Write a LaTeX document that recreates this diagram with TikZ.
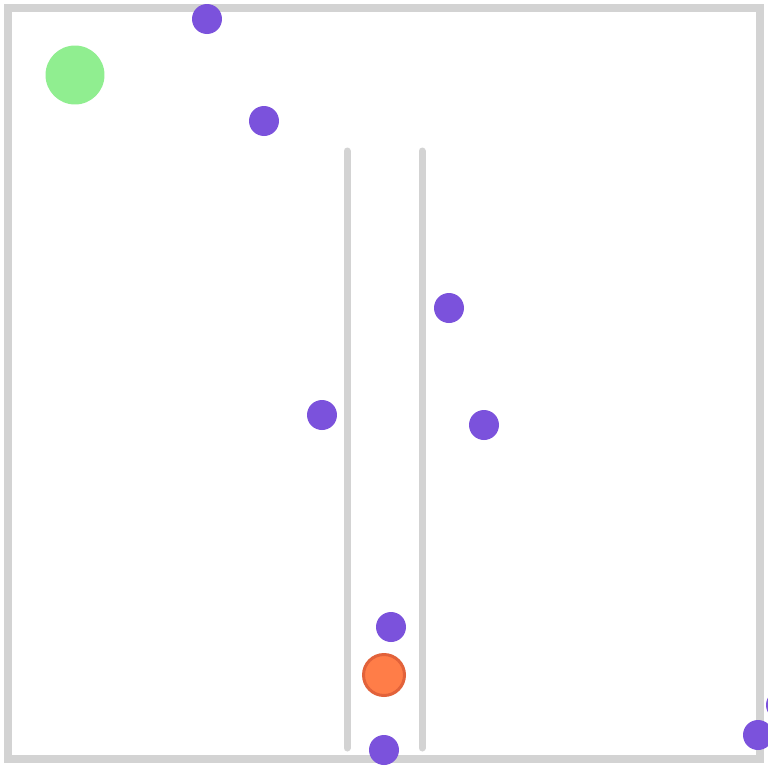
\documentclass[tikz,border=0pt]{standalone}
\usepackage{xcolor}
\usepackage{tikz}
\tikzset{>=latex}
\usetikzlibrary{
    positioning, % posicionamento relativo de nós
    calc % cálculos de coordenadas
}
\definecolor{wallgray}{RGB}{211,211,211}
\definecolor{goalgreen}{RGB}{144,238,144}
\definecolor{dotpurple}{RGB}{123,82,220}
\definecolor{agentorange}{RGB}{255,125,72}
\definecolor{agentedge}{RGB}{226,98,58}
\tikzset{
    arena/.style={draw=wallgray, line width=0.15cm},
    wall/.style={draw=wallgray, line width=0.14cm, line cap=round},
    goal/.style={circle, fill=goalgreen, minimum size=1.18cm, inner sep=0pt},
    obstacle/.style={circle, fill=dotpurple, minimum size=0.6cm, inner sep=0pt},
    agent/.style={circle, fill=agentorange, draw=agentedge, line width=0.06cm,
                  minimum size=0.82cm, inner sep=0pt}
}
\begin{document}
\begin{tikzpicture}[x=0.02cm, y=-0.02cm]
      % canvas in reference pixels (768 x 768, y downwards)
      \useasboundingbox (0,0) rectangle (768,768);
      \fill[white] (0,0) rectangle (768,768);

      % ===================== ARENA =====================
      % outline
      \draw[arena] (8,8) rectangle (760,759);

      % corridor walls
      \coordinate (wLtop) at (347,151);
      \coordinate (wLbot) at (347,748);
      \coordinate (wRtop) at (422,151);
      \coordinate (wRbot) at (422,748);
      \draw[wall] (wLtop) -- (wLbot);
      \draw[wall] (wRtop) -- (wRbot);

      % ===================== GOAL =====================
      \node[goal] (goal) at (75,75) {};

      % ===================== OBSTACLES =====================
      \foreach \name/\x/\y in {o1/207/19, o2/264/121, o3/449/308, o4/322/415,
                               o5/484/425, o6/391/627, o7/384/750, o8/758/735, o9/781/705}
        \node[obstacle] (\name) at (\x,\y) {};

      % ===================== AGENT =====================
      \node[agent] (agent) at (384,675) {};
    \end{tikzpicture}
\end{document}
